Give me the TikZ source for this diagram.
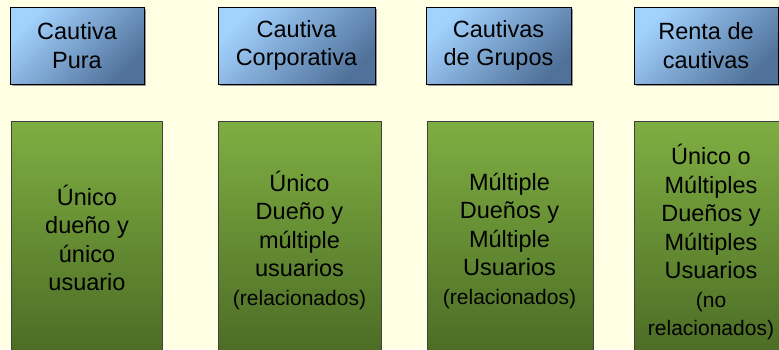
\documentclass[tikz,border=0pt]{standalone}
\usepackage{fontspec}
\setmainfont{Liberation Sans}
\definecolor{bg}{HTML}{FFFFE3}
\definecolor{blueL}{HTML}{A3D2FF}
\definecolor{blueD}{HTML}{50729A}
\definecolor{greenT}{HTML}{7FAE42}
\definecolor{greenB}{HTML}{4A6A24}
\begin{document}
\begin{tikzpicture}[x=1pt,y=-1pt,
  titlebox/.style={draw=black, line width=1pt, top color=blueL, bottom color=blueD, shading angle=45,
    inner sep=0pt, align=center, font=\fontsize{23.5}{28.5}\selectfont},
  bodybox/.style={draw=black!75, line width=0.8pt, top color=greenT, bottom color=greenB,
    inner sep=0pt, align=center, font=\fontsize{23.5}{28.5}\selectfont},
  bodytext/.style={align=center, font=\fontsize{23.5}{28.5}\selectfont}]
\newcommand{\smalltxt}{\fontsize{21}{28.5}\selectfont}
\useasboundingbox (0,0) rectangle (779,349);
\fill[bg] (0,0) rectangle (779,349);
\clip (0,0) rectangle (779,349);
% shadows
\foreach \a/\b in {10/144,218/375,426/571,634/778}{
  \fill[black!40] (\a+2,9) rectangle (\b+2,86);
}
% blue title boxes
\node[titlebox, minimum width=134pt, minimum height=77pt] (t1) at (77,45.5) {Cautiva\\Pura};
\node[titlebox, minimum width=157pt, minimum height=77pt] (t2) at (296.5,45.5) {Cautiva\\Corporativa};
\node[titlebox, minimum width=145pt, minimum height=77pt] (t3) at (498.5,45.5) {Cautivas\\de Grupos};
\node[titlebox, minimum width=144pt, minimum height=77pt] (t4) at (706,45.5) {Renta de\\cautivas};
% green body boxes
\node[bodybox, minimum width=151pt, minimum height=240pt] (b1) at (86.5,241) {};
\node[bodybox, minimum width=163pt, minimum height=240pt] (b2) at (299.5,241) {};
\node[bodybox, minimum width=166pt, minimum height=240pt] (b3) at (510,241) {};
\node[bodybox, minimum width=160pt, minimum height=240pt] (b4) at (714,241) {};
% texts
\node[bodytext] (x1) at (87,238) {Único\\dueño y\\único\\usuario};
\node[bodytext] (x2) at (299.5,240) {Único\\Dueño y\\múltiple\\usuarios\\{\smalltxt(relacionados)}};
\node[bodytext] (x3) at (509.5,241) {Múltiple\\Dueños y\\Múltiple\\Usuarios\\{\smalltxt(relacionados)}};
\node[bodytext] (x4) at (711,242) {Único o\\Múltiples\\Dueños y\\Múltiples\\Usuarios\\{\smalltxt(no}\\{\smalltxt relacionados)}};
\end{tikzpicture}
\end{document}
